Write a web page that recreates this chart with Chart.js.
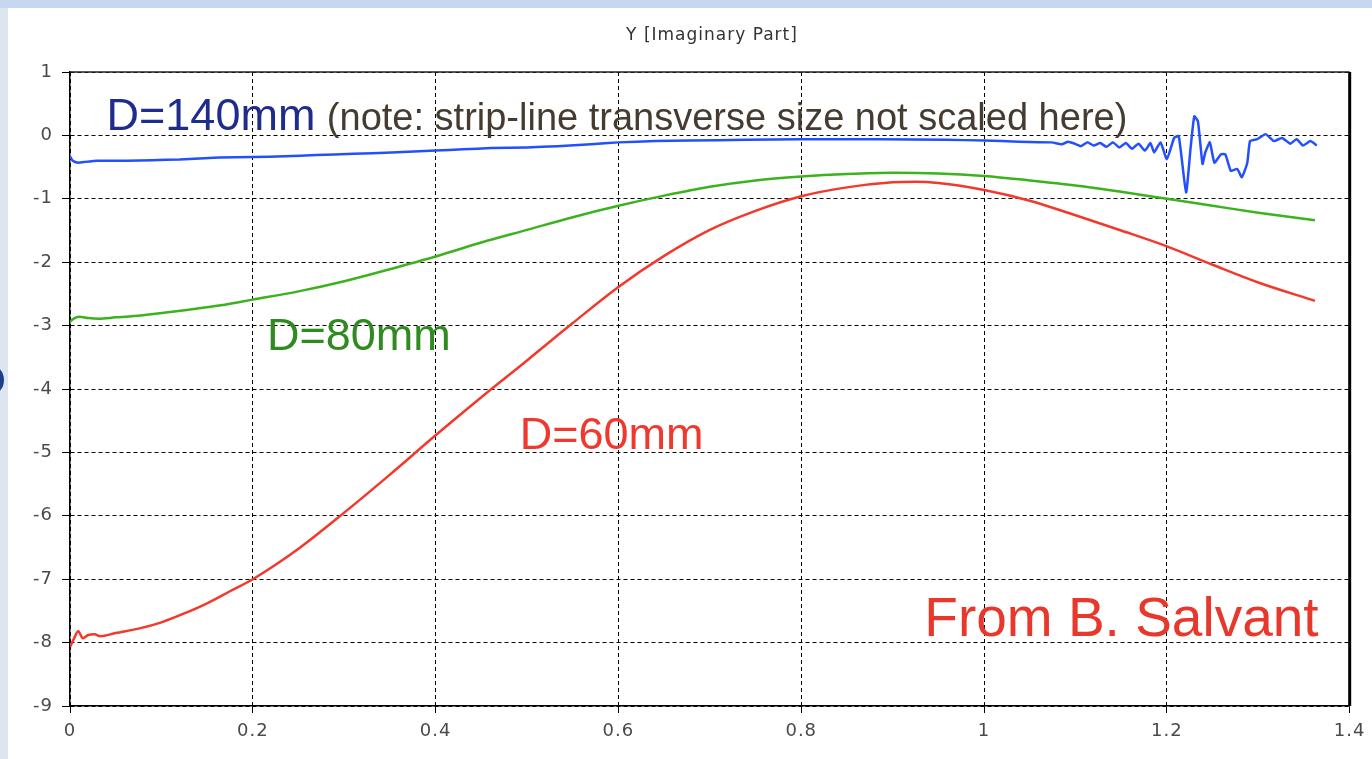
<!DOCTYPE html>
<html>
<head>
<meta charset="utf-8">
<script src="https://cdn.jsdelivr.net/npm/chart.js@4.4.1/dist/chart.umd.min.js"></script>
<style>
    html, body { margin: 0; padding: 0; background: #ffffff; }
    #wrap { width: 1372px; height: 759px; position: relative; }
</style>
</head>
<body>
<div id="wrap"><canvas id="imagChart"></canvas></div>
<script>
    // Y [Imaginary Part] vs frequency, three pipe diameters
    var xTicks = [0, 0.2, 0.4, 0.6, 0.8, 1, 1.2, 1.4];
    var yTicks = [1, 0, -1, -2, -3, -4, -5, -6, -7, -8, -9];

    // D=140mm (blue)
    var x140 = [0, 0.003, 0.009, 0.015, 0.03, 0.062, 0.09, 0.12, 0.163, 0.2,
        0.235, 0.269, 0.31, 0.352, 0.4, 0.43, 0.461, 0.5, 0.533, 0.57,
        0.6, 0.64, 0.678, 0.74, 0.8, 0.885, 0.958, 1.0, 1.038, 1.074,
        1.085, 1.092, 1.099, 1.106, 1.113, 1.12, 1.127, 1.134, 1.141, 1.148,
        1.155, 1.162, 1.169, 1.176, 1.182, 1.186, 1.193, 1.2, 1.208, 1.213,
        1.221, 1.226, 1.230, 1.234, 1.239, 1.242, 1.247, 1.252, 1.259, 1.264,
        1.270, 1.277, 1.282, 1.288, 1.291, 1.299, 1.308, 1.317, 1.326, 1.335,
        1.342, 1.349, 1.357, 1.364];
    var y140 = [-0.33, -0.40, -0.43, -0.42, -0.40, -0.40, -0.39, -0.38, -0.35, -0.34,
        -0.33, -0.31, -0.29, -0.27, -0.24, -0.22, -0.20, -0.19, -0.17, -0.14,
        -0.11, -0.09, -0.08, -0.07, -0.06, -0.06, -0.07, -0.08, -0.10, -0.11,
        -0.14, -0.10, -0.13, -0.17, -0.11, -0.16, -0.12, -0.18, -0.11, -0.19,
        -0.12, -0.21, -0.13, -0.24, -0.12, -0.27, -0.11, -0.375, -0.04, -0.01,
        -0.90, -0.19, 0.30, 0.22, -0.45, -0.27, -0.11, -0.43, -0.30, -0.30,
        -0.56, -0.53, -0.66, -0.43, -0.09, -0.06, 0.02, -0.09, -0.04, -0.13,
        -0.06, -0.16, -0.09, -0.16];

    // D=80mm (green)
    var x80 = [0, 0.004, 0.01, 0.02, 0.031, 0.05, 0.07, 0.096, 0.13, 0.165,
        0.2, 0.25, 0.3, 0.35, 0.4, 0.45, 0.5, 0.55, 0.6, 0.65,
        0.7, 0.75, 0.8, 0.85, 0.9, 0.95, 1.0, 1.05, 1.1, 1.15,
        1.2, 1.25, 1.3, 1.362];
    var y80 = [-2.94, -2.89, -2.86, -2.88, -2.89, -2.87, -2.85, -2.81, -2.75, -2.68,
        -2.59, -2.46, -2.30, -2.11, -1.91, -1.69, -1.49, -1.29, -1.11, -0.95,
        -0.81, -0.71, -0.65, -0.61, -0.59, -0.60, -0.64, -0.71, -0.79, -0.89,
        -1.00, -1.11, -1.22, -1.34];

    // D=60mm (red)
    var x60 = [0, 0.004, 0.009, 0.014, 0.02, 0.027, 0.033, 0.05, 0.075, 0.1,
        0.125, 0.15, 0.175, 0.2, 0.25, 0.3, 0.35, 0.4, 0.45, 0.5,
        0.55, 0.6, 0.65, 0.7, 0.75, 0.8, 0.85, 0.9, 0.925, 0.95,
        1.0, 1.05, 1.1, 1.15, 1.2, 1.25, 1.3, 1.362];
    var y60 = [-8.07, -7.95, -7.82, -7.93, -7.88, -7.87, -7.90, -7.85, -7.78, -7.68,
        -7.54, -7.38, -7.19, -7.0, -6.52, -5.95, -5.35, -4.73, -4.13, -3.55,
        -2.96, -2.39, -1.90, -1.49, -1.19, -0.96, -0.82, -0.74, -0.73, -0.75,
        -0.86, -1.03, -1.26, -1.50, -1.75, -2.04, -2.32, -2.61];

    function toPoints(xs, ys) {
        return xs.map(function (x, i) { return { x: x, y: ys[i] }; });
    }

    // text labels placed in data units
    var notes = [
        { text: "D=140mm", x: 0.040, y: 0.085, color: "#1f2c8c", font: "45px 'Liberation Sans'", align: "left" },
        { text: "(note: strip-line transverse size not scaled here)", x: 0.281, y: 0.085, color: "#463b30", font: "38px 'Liberation Sans'", align: "left" },
        { text: "D=80mm", x: 0.2155, y: -3.385, color: "#2f8a1f", font: "45px 'Liberation Sans'", align: "left" },
        { text: "D=60mm", x: 0.492, y: -4.946, color: "#f0392e", font: "45px 'Liberation Sans'", align: "left" },
        { text: "From B. Salvant", x: 1.366, y: -7.896, color: "#e8382c", font: "55px 'Liberation Sans'", align: "right" }
    ];

    var framePlugin = {
        id: 'frame',
        beforeDraw: function (chart) {
            var ctx = chart.ctx;
            ctx.save();
            ctx.fillStyle = "#dce5f0";
            ctx.fillRect(0, 0, chart.width, chart.height);
            ctx.fillStyle = "#c5d8ef";
            ctx.fillRect(0, 0, chart.width, 8);
            ctx.fillStyle = "#ffffff";
            ctx.fillRect(8, 8, chart.width - 8, chart.height - 8);
            ctx.fillStyle = "#1d3f8a";
            ctx.beginPath();
            ctx.ellipse(-9, 380, 13, 15, 0, 0, Math.PI * 2);
            ctx.fill();
            // title
            ctx.fillStyle = "#333333";
            ctx.font = "17px 'DejaVu Sans'";
            ctx.letterSpacing = "1px";
            ctx.textAlign = "center";
            ctx.textBaseline = "middle";
            ctx.fillText("Y [Imaginary Part]", 712, 36);
            ctx.restore();
            // wide spacing for the axis numbers too
            ctx.letterSpacing = "1px";
        },
        afterDraw: function (chart) {
            var ctx = chart.ctx;
            var a = chart.chartArea;
            ctx.save();
            ctx.strokeStyle = "#222222";
            ctx.lineWidth = 1.5;
            ctx.beginPath();
            ctx.moveTo(a.left, a.top);
            ctx.lineTo(a.right, a.top);
            ctx.stroke();
            ctx.strokeStyle = "#000000";
            ctx.lineWidth = 3;
            ctx.beginPath();
            ctx.moveTo(a.right, a.top);
            ctx.lineTo(a.right, a.bottom);
            ctx.stroke();
            ctx.restore();
        },
        afterDatasetsDraw: function (chart) {
            var ctx = chart.ctx;
            var xs = chart.scales.x, ys = chart.scales.y;
            ctx.save();
            ctx.letterSpacing = "0px";
            ctx.textBaseline = "alphabetic";
            notes.forEach(function (n) {
                ctx.font = n.font;
                ctx.fillStyle = n.color;
                ctx.textAlign = n.align;
                ctx.fillText(n.text, xs.getPixelForValue(n.x), ys.getPixelForValue(n.y));
            });
            ctx.restore();
        }
    };

    var tickFont = { family: "'DejaVu Sans'", size: 18 };

    new Chart(document.getElementById("imagChart").getContext('2d'), {
        type: 'line',
        data: {
            datasets: [{
                label: "D=140mm",
                data: toPoints(x140, y140),
                borderColor: "#2350ff",
                borderWidth: 2.5,
                pointRadius: 0,
                tension: 0.15
            }, {
                label: "D=80mm",
                data: toPoints(x80, y80),
                borderColor: "#3db21f",
                borderWidth: 2.5,
                pointRadius: 0,
                cubicInterpolationMode: 'monotone'
            }, {
                label: "D=60mm",
                data: toPoints(x60, y60),
                borderColor: "#f2392c",
                borderWidth: 2.5,
                pointRadius: 0,
                cubicInterpolationMode: 'monotone'
            }]
        },
        options: {
            responsive: true,
            maintainAspectRatio: false,
            animation: false,
            layout: { padding: { left: 0, right: 16, top: 72, bottom: 0 } },
            plugins: {
                legend: { display: false },
                tooltip: { enabled: false }
            },
            scales: {
                x: {
                    type: 'linear',
                    min: 0,
                    max: 1.4,
                    afterFit: function (scale) { scale.height = 53; },
                    afterBuildTicks: function (scale) {
                        scale.ticks = xTicks.map(function (v) { return { value: v }; });
                    },
                    ticks: {
                        color: "#4a4a4a",
                        font: tickFont,
                        padding: 8,
                        maxRotation: 0,
                        callback: function (v) { return String(v); }
                    },
                    grid: { color: "#000000", lineWidth: 1, tickLength: 7, tickColor: "#000000" },
                    border: { display: true, color: "#000000", width: 1.5, dash: [4, 3] }
                },
                y: {
                    min: -9,
                    max: 1,
                    afterFit: function (scale) { scale.width = 70; },
                    afterBuildTicks: function (scale) {
                        scale.ticks = yTicks.map(function (v) { return { value: v }; });
                    },
                    ticks: {
                        color: "#4a4a4a",
                        font: tickFont,
                        padding: 9,
                        callback: function (v) { return String(v); }
                    },
                    grid: { color: "#000000", lineWidth: 1, tickLength: 8, tickColor: "#000000" },
                    border: { display: true, color: "#000000", width: 1.5, dash: [4, 3] }
                }
            }
        },
        plugins: [framePlugin]
    });
</script>
</body>
</html>
